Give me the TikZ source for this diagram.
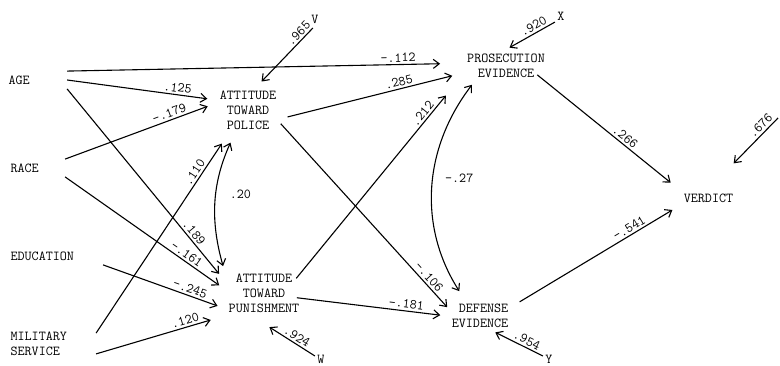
\documentclass[tikz,border=0pt]{standalone}
\usetikzlibrary{arrows.meta}
\newcommand\diagfont{\fontsize{13.7}{15}\selectfont\ttfamily}

\begin{document}
\begin{tikzpicture}[x=1pt, y=-1pt, line width=1.1pt,
    >={Straight Barb[length=6pt,width=9pt]},
    latent/.style={font=\diagfont, inner sep=4pt, align=center},
    exogen/.style={latent, anchor=west, align=left},
    letter/.style={font=\diagfont, inner sep=2pt},
    coef/.style={font=\diagfont, inner sep=2pt, sloped, above}]
  \useasboundingbox (0,0) rectangle (780,366);

  \node[exogen, text width=54pt] (age) at (4,80) {AGE};
  \node[exogen, text width=50pt] (race) at (6,168) {RACE};
  \node[exogen, text width=88pt] (educ) at (6,256) {EDUCATION};
  \node[exogen, text width=81pt] (milit) at (6,343.5) {MILITARY\\SERVICE};
  \node[latent] (police) at (248,110.5) {ATTITUDE\\TOWARD\\POLICE};
  \node[latent] (punish) at (264,293) {ATTITUDE\\TOWARD\\PUNISHMENT};
  \node[latent, inner xsep=10pt] (prosec) at (506,66) {PROSECUTION\\EVIDENCE};
  \node[latent, align=right] (defense) at (480,316) {DEFENSE\\EVIDENCE};
  \node[latent] (verdict) at (708.5,198) {VERDICT};
  \node[letter] (v) at (315,19) {V};
  \node[letter] (x) at (561,16) {X};
  \node[letter] (w) at (321,359.5) {W};
  \node[letter] (y) at (549,359.5) {Y};
  \coordinate (z) at (778,118);

  % paths from the background variables
  \draw[->, shorten >=16.5pt] (age.north east) -- (prosec.177) node[pos=.85, coef] {-.112};
  \draw[->, shorten >=8pt] (age.east) -- (police.162) node[pos=.74, coef] {.125};
  \draw[->, shorten >=8pt] (age.south east) -- (punish.162) node[pos=.775, coef] {.189};
  \draw[->, shorten >=8pt] (race.north east) -- (police.168) node[pos=.71, coef] {-.179};
  \draw[->, shorten >=6pt] (race.south east) -- (punish.174) node[pos=.74, coef] {-.161};
  \draw[->, shorten >=7pt] (educ.south east) -- (punish.201) node[pos=.7, coef] {-.245};
  \draw[->, shorten >=14pt] (milit.347) -- (punish.210) node[pos=.71, coef] {.120};
  \draw[->, shorten >=11pt] (milit.13) -- (police.230) node[pos=.79, coef] {.110};

  % attitudes to evidence
  \draw[<->, shorten <=9pt, shorten >=4pt] (police.240) to[bend right=20]
    node[pos=.45, right=12pt, font=\diagfont, inner sep=1pt] {.20} (punish.150);
  \draw[->, shorten <=7pt, shorten >=4.5pt] (police.346) -- (prosec.190) node[pos=.68, coef] {.285};
  \draw[->] (police.338) -- (defense.165) node[pos=.86, coef] {-.106};
  \draw[->, shorten <=-12pt, shorten >=17pt] (punish.north east) -- (prosec.south west) node[pos=.81, coef] {.212};
  \draw[->, shorten <=-7pt, shorten >=7pt] (punish.352) -- (defense.180) node[pos=.71, coef] {-.181};
  \draw[<->, shorten <=3pt, shorten >=10pt] (prosec.207) to[bend right=35]
    node[pos=.45, right=10pt, font=\diagfont, inner sep=1pt] {-.27} (defense.133);

  % evidence to verdict
  \draw[->, shorten <=-12pt, shorten >=11pt] (prosec.338) -- (verdict.164) node[pos=.56, coef] {.266};
  \draw[->, shorten <=8pt, shorten >=8pt] (defense.17) -- (verdict.195) node[pos=.72, coef] {-.541};

  % residuals
  \draw[->, shorten <=3pt, shorten >=7pt] (v.south) -- (police.70) node[pos=.2, coef] {.965};
  \draw[->, shorten >=4pt] (x.225) -- (prosec.north) node[pos=.37, coef] {.920};
  \draw[->, shorten >=19pt] (w.150) -- (punish.246) node[pos=.35, coef] {.924};
  \draw[->] (y.150) -- (defense.313) node[pos=.4, coef] {.954};
  \draw[->, shorten >=36pt] (z) -- (verdict.north) node[pos=.18, coef] {.676};
\end{tikzpicture}
\end{document}
